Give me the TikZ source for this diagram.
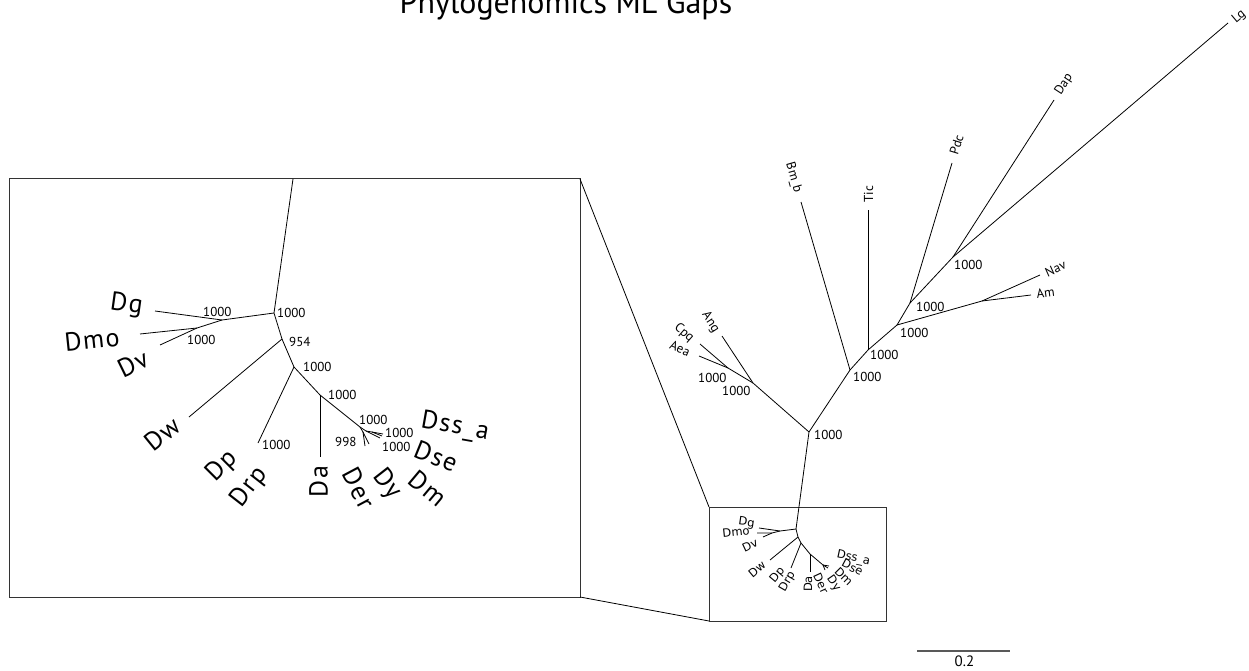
\documentclass[tikz,border=0pt]{standalone}
\usepackage{fontspec}
\setmainfont{PT Sans}
\newfontfamily\lblfont{PT Sans}
\newfontfamily\bigfont[LetterSpace=6]{PT Sans}
\newfontfamily\smallfont{DejaVu Sans}
\begin{document}
\begin{tikzpicture}[x=1pt,y=-1pt,
  branch/.style={line width=0.8pt, draw=black},
  boxline/.style={line width=1pt, draw=black!80},
  tiplbl/.style={font=\lblfont\fontsize{13}{13}\selectfont, inner sep=0pt, anchor=center},
  boot/.style={font=\lblfont\fontsize{13}{13}\selectfont, inner sep=0pt, anchor=north west},
  biglbl/.style={font=\bigfont\fontsize{26}{26}\selectfont, inner sep=0pt, anchor=center},
  smlbl/.style={font=\smallfont\fontsize{11.5}{11.5}\selectfont, inner sep=0pt, anchor=center}]
\useasboundingbox (0,0) rectangle (1249,671);

% title
\node[font=\fontsize{32}{32}\selectfont, anchor=base, inner sep=0pt] (title) at (566,14) {Phylogenomics ML Gaps};

% ---------- boxes ----------
\coordinate (bbnw) at (9,179);
\coordinate (bbne) at (580,179);
\coordinate (bbse) at (580,597);
\coordinate (sbnw) at (709,507);
\coordinate (sbsw) at (709,621);
\coordinate (sbse) at (886,621);
\draw[boxline] (bbnw) rectangle (bbse);
\draw[boxline] (sbnw) rectangle (sbse);
\draw[branch] (bbne) -- (sbnw);
\draw[branch] (bbse) -- (sbsw);

% ---------- right tree ----------
\coordinate (C0) at (809,432);
\coordinate (Nbm) at (850,370);
\coordinate (Tbm) at (801,202);
\coordinate (Ntic) at (868,350);
\coordinate (Ttic) at (868,210);
\coordinate (Nnav) at (897,325);
\coordinate (Nna) at (982,301);
\coordinate (Tnav) at (1040,275);
\coordinate (Tam) at (1031,295);
\coordinate (Npdc) at (910,303);
\coordinate (Tpdc) at (952,163);
\coordinate (Ndap) at (953,257);
\coordinate (Tdap) at (1054,100);
\coordinate (Tlg) at (1228,23);
\coordinate (Nang) at (753,383);
\coordinate (Tang) at (722,336);
\coordinate (Ncpq) at (728,368);
\coordinate (Tcpq) at (700,344);
\coordinate (Taea) at (699,356);
\coordinate (Sroot) at (796,529);

\draw[branch] (Sroot) -- (C0) -- (Nbm) -- (Ntic) -- (Nnav) -- (Npdc) -- (Ndap) -- (Tlg);
\draw[branch] (Nbm) -- (Tbm);
\draw[branch] (Ntic) -- (Ttic);
\draw[branch] (Nnav) -- (Nna) -- (Tnav);
\draw[branch] (Nna) -- (Tam);
\draw[branch] (Npdc) -- (Tpdc);
\draw[branch] (Ndap) -- (Tdap);
\draw[branch] (C0) -- (Nang) -- (Tang);
\draw[branch] (Nang) -- (Ncpq) -- (Tcpq);
\draw[branch] (Ncpq) -- (Taea);

\node[tiplbl, rotate=40] (lLg) at (1239,17) {Lg};
\node[tiplbl, rotate=57] (lDap) at (1064,84.5) {Dap};
\node[tiplbl, rotate=73] (lPdc) at (956.5,145) {Pdc};
\node[tiplbl, rotate=90] (lTic) at (868.5,194) {Tic};
\node[tiplbl, rotate=-74] (lBm) at (793.5,177.5) {Bm\_b};
\node[tiplbl, rotate=24] (lNav) at (1055.5,268.5) {Nav};
\node[tiplbl, rotate=7] (lAm) at (1045.5,292.5) {Am};
\node[tiplbl, rotate=-57] (lAng) at (710.5,322) {Ang};
\node[tiplbl, rotate=-41] (lCpq) at (684,333) {Cpq};
\node[tiplbl, rotate=-22] (lAea) at (680,348.5) {Aea};

\node[boot] (b1) at (954,260) {1000};
\node[boot] (b2) at (916,302) {1000};
\node[boot] (b3) at (900,328) {1000};
\node[boot] (b4) at (870,350) {1000};
\node[boot] (b5) at (853,372) {1000};
\node[boot] (b6) at (814,430) {1000};
\node[boot] (b7) at (722,386) {1000};
\node[boot] (b8) at (698,373) {1000};

% ---------- small tree (in small box) ----------
\coordinate (Sg) at (780,531);
\coordinate (STg) at (759,528);
\coordinate (Smv) at (772,533);
\coordinate (STmo) at (757,533);
\coordinate (STv) at (763,537);
\coordinate (Sw) at (798,537);
\coordinate (STw) at (770,560);
\coordinate (Sp) at (801,543);
\coordinate (STp) at (791,568);
\coordinate (Sa) at (810,554);
\coordinate (STa) at (810,572);
\coordinate (SA) at (823,565);
\coordinate (STA1) at (829,566);
\coordinate (STA2) at (828,568);
\coordinate (STA3) at (825,570);

\draw[branch] (Sroot) -- (Sw) -- (Sp) -- (Sa) -- (SA) -- (STA1);
\draw[branch] (SA) -- (STA2);
\draw[branch] (SA) -- (STA3);
\draw[branch] (Sroot) -- (Sg) -- (STg);
\draw[branch] (Sg) -- (Smv) -- (STmo);
\draw[branch] (Smv) -- (STv);
\draw[branch] (Sw) -- (STw);
\draw[branch] (Sp) -- (STp);
\draw[branch] (Sa) -- (STa);

\node[smlbl, rotate=-8] (sDg) at (746.5,523) {Dg};
\node[smlbl, rotate=6] (sDmo) at (736,532) {Dmo};
\node[smlbl, rotate=25] (sDv) at (750,545) {Dv};
\node[smlbl, rotate=40] (sDw) at (757,569) {Dw};
\node[smlbl, rotate=50] (sDp) at (777.5,575) {Dp};
\node[smlbl, rotate=60] (sDrp) at (787.5,581.5) {Drp};
\node[smlbl, rotate=90] (sDa) at (808,584) {Da};
\node[smlbl, rotate=-65] (sDer) at (821,583.5) {Der};
\node[smlbl, rotate=-55] (sDy) at (833.5,583.5) {Dy};
\node[smlbl, rotate=-45] (sDm) at (844,576.5) {Dm};
\node[smlbl, rotate=-28] (sDse) at (852.5,567.5) {Dse};
\node[smlbl, rotate=-12] (sDss) at (853.5,558.5) {Dss\_a};

% ---------- big tree (in big box) ----------
\coordinate (Bstem) at (293,179);
\coordinate (Broot) at (274,313);
\coordinate (Bg) at (222,320);
\coordinate (BTg) at (155,311);
\coordinate (Bmv) at (197,328);
\coordinate (BTmo) at (140,334);
\coordinate (BTv) at (160,345);
\coordinate (Bw) at (282,339);
\coordinate (BTw) at (189,417);
\coordinate (Bp) at (294,367);
\coordinate (BTp) at (258,443);
\coordinate (Ba) at (320,395);
\coordinate (BTa) at (320,457);
\coordinate (BA) at (360,427);
\coordinate (Bdy) at (363,432);
\coordinate (BTder) at (365,446);
\coordinate (BTdy) at (369,444);
\coordinate (Bdm) at (366,431);
\coordinate (BTdm) at (380,438);
\coordinate (Bss) at (372,432);
\coordinate (BTss) at (383,434);
\coordinate (BTse) at (382,436);

\draw[branch] (Bstem) -- (Broot) -- (Bw) -- (Bp) -- (Ba) -- (BA) -- (Bdm) -- (Bss) -- (BTss);
\draw[branch] (Bss) -- (BTse);
\draw[branch] (Bdm) -- (BTdm);
\draw[branch] (BA) -- (Bdy) -- (BTder);
\draw[branch] (Bdy) -- (BTdy);
\draw[branch] (Broot) -- (Bg) -- (BTg);
\draw[branch] (Bg) -- (Bmv) -- (BTmo);
\draw[branch] (Bmv) -- (BTv);
\draw[branch] (Bw) -- (BTw);
\draw[branch] (Bp) -- (BTp);
\draw[branch] (Ba) -- (BTa);

\node[biglbl, rotate=-8] (lDg) at (126.5,305) {Dg};
\node[biglbl, rotate=6] (lDmo) at (92,340) {Dmo};
\node[biglbl, rotate=26] (lDv) at (133,364) {Dv};
\node[biglbl, rotate=39] (lDw) at (162,434) {Dw};
\node[biglbl, rotate=45] (lDp) at (222,466) {Dp};
\node[biglbl, rotate=52] (lDrp) at (249.5,487) {Drp};
\node[biglbl, rotate=90] (lDa) at (318.5,481.5) {Da};
\node[biglbl, rotate=-62] (lDer) at (359,488) {Der};
\node[biglbl, rotate=-52] (lDy) at (387,484) {Dy};
\node[biglbl, rotate=-40] (lDm) at (428,488) {Dm};
\node[biglbl, rotate=-22] (lDse) at (436,456) {Dse};
\node[biglbl, rotate=-10] (lDss) at (455,427) {Dss\_a};

\node[boot] (c1) at (277,308) {1000};
\node[boot] (c2) at (203,307) {1000};
\node[boot] (c3) at (187,335) {1000};
\node[boot] (c4) at (289,337) {954};
\node[boot] (c5) at (303,362) {1000};
\node[boot] (c6) at (262,440) {1000};
\node[boot] (c7) at (328,390) {1000};
\node[boot] (c8) at (359,415) {1000};
\node[boot] (c9) at (335,437) {998};
\node[boot] (c10) at (385,428) {1000};
\node[boot] (c11) at (382,442) {1000};

% ---------- scale bar ----------
\coordinate (sbl) at (917,651);
\coordinate (sbr) at (1010,651);
\draw[line width=1.5pt, draw=black!65] (sbl) -- (sbr);
\node[font=\lblfont\fontsize{15}{15}\selectfont, inner sep=0pt, anchor=center] (sblbl) at (964.5,661.5) {0.2};
\end{tikzpicture}
\end{document}
